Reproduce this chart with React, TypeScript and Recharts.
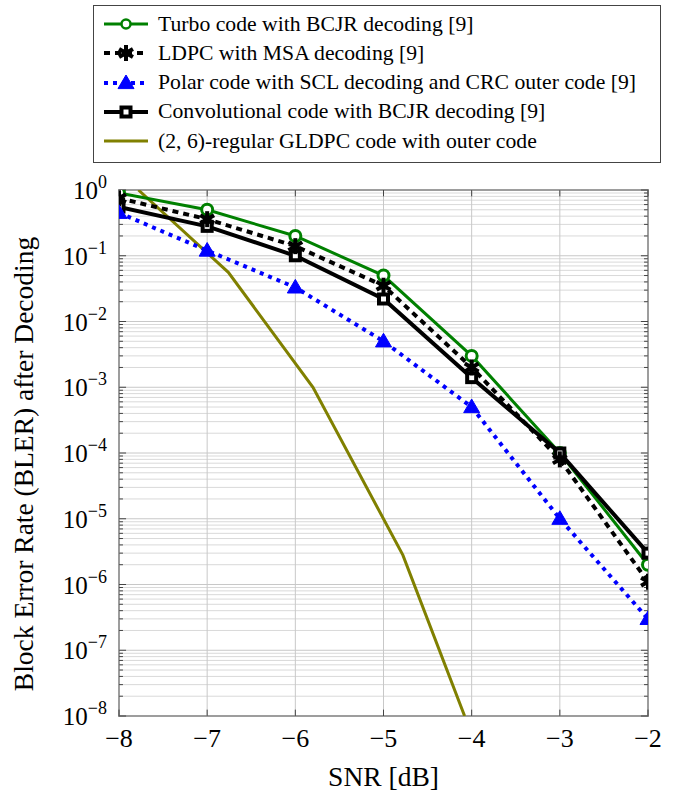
import React from 'react';
import { LineChart, Line, XAxis, YAxis, ReferenceLine, ReferenceArea } from 'recharts';

// --- Data ---
const snr = [-8, -7, -6, -5, -4, -3, -2];
const turboBler = [0.9, 0.5, 0.2, 0.05, 3e-3, 1e-4, 2e-6];
const ldpcBler = [0.75, 0.36, 0.14, 0.035, 2e-3, 8e-5, 1.1e-6];
const polarBler = [0.45, 0.12, 0.033, 5e-3, 5e-4, 1e-5, 3e-7];
const convBler = [0.55, 0.28, 0.1, 0.022, 1.4e-3, 1e-4, 3e-6];

const gldpcSnr = [-7.78, -6.76, -5.8, -4.78, -4.08];
const gldpcBler = [1, 0.056, 1e-3, 2.8e-6, 1e-8];

const xTicks = [-8, -7, -6, -5, -4, -3, -2];
const yTicks = [1e-8, 1e-7, 1e-6, 1e-5, 1e-4, 1e-3, 1e-2, 1e-1, 1];

const toRows = (xs: number[], ys: number[]) => xs.map((x, i) => ({ x, y: ys[i] }));

const turboData = toRows(snr, turboBler);
const ldpcData = toRows(snr, ldpcBler);
const polarData = toRows(snr, polarBler);
const convData = toRows(snr, convBler);
const gldpcData = toRows(gldpcSnr, gldpcBler);

// minor grid values 2..9 x 10^k
const minorY: number[] = [];
for (let k = -8; k < 0; k++) {
  for (let m = 2; m <= 9; m++) minorY.push(m * Math.pow(10, k));
}

const FONT = 'Liberation Serif, Times New Roman, DejaVu Serif, serif';
const GREEN = '#008000';
const BLUE = '#0000ff';
const OLIVE = '#808000';
const FRAME = '#444';

// --- Markers ---
const CircleDot = (props: any) => {
  const { cx, cy, small } = props;
  if (cx == null || cy == null) return null;
  return <circle cx={cx} cy={cy} r={small ? 4.5 : 5.5} fill="#fff" stroke={GREEN} strokeWidth={small ? 2.5 : 3} />;
};

const StarDot = (props: any) => {
  const { cx, cy } = props;
  if (cx == null || cy == null) return null;
  const r = 8;
  const arms = [0, 60, 120].map((a) => {
    const rad = (a * Math.PI) / 180 + Math.PI / 2;
    return (
      <line
        key={a}
        x1={cx - r * Math.cos(rad)}
        y1={cy - r * Math.sin(rad)}
        x2={cx + r * Math.cos(rad)}
        y2={cy + r * Math.sin(rad)}
        stroke="#000"
        strokeWidth={4}
      />
    );
  });
  return <g>{arms}<circle cx={cx} cy={cy} r={4} fill="#000" /></g>;
};

const TriangleDot = (props: any) => {
  const { cx, cy } = props;
  if (cx == null || cy == null) return null;
  const s = 8;
  return (
    <polygon
      points={`${cx},${cy - s} ${cx - s},${cy + s * 0.7} ${cx + s},${cy + s * 0.7}`}
      fill={BLUE}
      stroke={BLUE}
      strokeWidth={1}
    />
  );
};

const SquareDot = (props: any) => {
  const { cx, cy } = props;
  if (cx == null || cy == null) return null;
  const s = 9;
  return <rect x={cx - s / 2} y={cy - s / 2} width={s} height={s} fill="#fff" stroke="#000" strokeWidth={4} />;
};

// --- Ticks & labels ---
const YTick = (props: any) => {
  const { payload, y } = props;
  const e = Math.round(Math.log10(payload.value));
  const exp = e === 0 ? '0' : `\u2212${Math.abs(e)}`;
  return (
    <text x={107} y={y + 9} textAnchor="end" fontFamily={FONT} fontSize={25} fill="#000">
      10<tspan dy={-11} fontSize={18}>{exp}</tspan>
    </text>
  );
};

const XTick = (props: any) => {
  const { x, payload } = props;
  const v = payload.value;
  const label = v < 0 ? `\u2212${Math.abs(v)}` : `${v}`;
  return (
    <text x={x} y={747} textAnchor="middle" fontFamily={FONT} fontSize={26} fill="#000">
      {label}
    </text>
  );
};

const YLabel = (props: any) => {
  const vb = props.viewBox || { x: 0, y: 190, height: 526 };
  const cx = vb.x + 33;
  const cy = vb.y + vb.height / 2 + 11;
  return (
    <text
      x={cx}
      y={cy}
      transform={`rotate(-90 ${cx} ${cy})`}
      textAnchor="middle"
      fontFamily={FONT}
      fontSize={27.5}
      fill="#000"
    >
      Block Error Rate (BLER) after Decoding
    </text>
  );
};

const XLabel = (props: any) => {
  const vb = props.viewBox || { x: 119, y: 716, width: 529 };
  return (
    <text x={vb.x + vb.width / 2} y={786} textAnchor="middle" fontFamily={FONT} fontSize={27.5} fill="#000">
      SNR [dB]
    </text>
  );
};

// --- Legend ---
const legendItems = [
  { label: 'Turbo code with BCJR decoding [9]', color: GREEN, width: 3, dash: undefined, Dot: CircleDot },
  { label: 'LDPC with MSA decoding [9]', color: '#000', width: 4, dash: '6 5', Dot: StarDot },
  { label: 'Polar code with SCL decoding and CRC outer code [9]', color: BLUE, width: 4, dash: '4 5', Dot: TriangleDot },
  { label: 'Convolutional code with BCJR decoding [9]', color: '#000', width: 4, dash: undefined, Dot: SquareDot },
  { label: '(2, 6)-regular GLDPC code with outer code', color: OLIVE, width: 3, dash: undefined, Dot: null },
];

const LegendBox: React.FC = () => (
  <div
    style={{
      position: 'absolute',
      left: 93,
      top: 5,
      width: 566,
      height: 156,
      border: `1.2px solid ${FRAME}`,
      background: '#fff',
      fontFamily: FONT,
      fontSize: 21.7,
      color: '#000',
    }}
  >
    {legendItems.map((it, i) => (
      <div key={i} style={{ position: 'absolute', left: 8, top: 18 + i * 29.3 - 12, height: 24, display: 'flex', alignItems: 'center' }}>
        <svg width={50} height={24}>
          <line x1={2} y1={12} x2={46} y2={12} stroke={it.color} strokeWidth={it.width} strokeDasharray={it.dash} />
          {it.Dot ? <it.Dot cx={24} cy={12} small /> : null}
        </svg>
        <span style={{ marginLeft: 6, whiteSpace: 'nowrap' }}>{it.label}</span>
      </div>
    ))}
  </div>
);

const App: React.FC = () => {
  return (
    <div style={{ position: 'absolute', left: 0, top: 0, width: 678, height: 791, background: '#fff' }}>
      <LineChart width={678} height={791} margin={{ top: 190, right: 30, bottom: 0, left: 0 }}>
        <XAxis
          dataKey="x"
          type="number"
          domain={[-8, -2]}
          ticks={xTicks}
          allowDataOverflow
          height={75}
          axisLine={false}
          tickLine={false}
          tick={<XTick />}
          label={<XLabel />}
        />
        <YAxis
          dataKey="y"
          scale="log"
          type="number"
          domain={[1e-8, 1]}
          ticks={yTicks}
          allowDataOverflow
          width={119}
          axisLine={false}
          tickLine={false}
          tick={<YTick />}
          label={<YLabel />}
        />
        {minorY.map((v) => (
          <ReferenceLine key={`m${v}`} y={v} stroke="#d9d9d9" strokeWidth={1} />
        ))}
        {yTicks.map((v) => (
          <ReferenceLine key={`M${v}`} y={v} stroke="#c8c8c8" strokeWidth={1} />
        ))}
        {xTicks.map((v) => (
          <ReferenceLine key={`X${v}`} x={v} stroke="#c8c8c8" strokeWidth={1} />
        ))}
        {/* inner tick marks on the frame */}
        {minorY.map((v) => (
          <ReferenceLine key={`tl${v}`} segment={[{ x: -8, y: v }, { x: -7.955, y: v }]} stroke={FRAME} strokeWidth={1} />
        ))}
        {minorY.map((v) => (
          <ReferenceLine key={`tr${v}`} segment={[{ x: -2.045, y: v }, { x: -2, y: v }]} stroke={FRAME} strokeWidth={1} />
        ))}
        {yTicks.map((v) => (
          <ReferenceLine key={`Tl${v}`} segment={[{ x: -8, y: v }, { x: -7.92, y: v }]} stroke={FRAME} strokeWidth={1} />
        ))}
        {yTicks.map((v) => (
          <ReferenceLine key={`Tr${v}`} segment={[{ x: -2.08, y: v }, { x: -2, y: v }]} stroke={FRAME} strokeWidth={1} />
        ))}
        {xTicks.map((v) => (
          <ReferenceLine key={`Tb${v}`} segment={[{ x: v, y: 1e-8 }, { x: v, y: 1.25e-8 }]} stroke={FRAME} strokeWidth={1} />
        ))}
        {xTicks.map((v) => (
          <ReferenceLine key={`Tt${v}`} segment={[{ x: v, y: 0.8 }, { x: v, y: 1 }]} stroke={FRAME} strokeWidth={1} />
        ))}
        <Line data={gldpcData} dataKey="y" stroke={OLIVE} strokeWidth={3} dot={false} isAnimationActive={false} />
        <Line data={turboData} dataKey="y" stroke={GREEN} strokeWidth={3} dot={<CircleDot />} isAnimationActive={false} />
        <Line data={convData} dataKey="y" stroke="#000" strokeWidth={4} dot={<SquareDot />} isAnimationActive={false} />
        <Line data={ldpcData} dataKey="y" stroke="#000" strokeWidth={4} strokeDasharray="6 5" dot={<StarDot />} isAnimationActive={false} />
        <Line data={polarData} dataKey="y" stroke={BLUE} strokeWidth={4} strokeDasharray="4 5" dot={<TriangleDot />} isAnimationActive={false} />
        <ReferenceArea x1={-8} x2={-2} y1={1e-8} y2={1} fill="none" stroke={FRAME} strokeWidth={1.5} />
      </LineChart>
      <LegendBox />
    </div>
  );
};

export default App;
